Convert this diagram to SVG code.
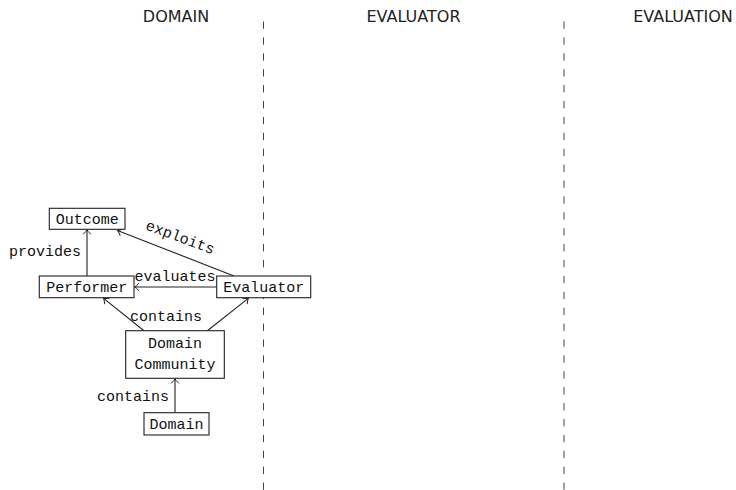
<svg xmlns="http://www.w3.org/2000/svg" width="736" height="490" viewBox="0 0 736 490">
  <style>
    .lane { font-family: "DejaVu Sans", "Noto Sans", sans-serif; font-size: 16px; fill: #222; text-anchor: middle; }
    .sep { stroke: #444; stroke-width: 1; stroke-dasharray: 7.3 8.6; fill: none; }
    .box { fill: #fff; stroke: #222; stroke-width: 1.1; }
    .tt { font-family: "Liberation Mono", "DejaVu Sans Mono", monospace; font-size: 15px; fill: #111; text-anchor: middle; }
    .lbl { font-family: "Liberation Mono", "DejaVu Sans Mono", monospace; font-size: 15px; fill: #111; }
    .edge { stroke: #222; stroke-width: 1.1; fill: none; marker-end: url(#to); }
  </style>
  <defs>
    <marker id="to" viewBox="-6 -5 8 10" markerWidth="8" markerHeight="10" refX="0" refY="0" orient="auto" markerUnits="userSpaceOnUse">
      <path d="M -4.2 -3.6 Q -1.4 -0.6 0 0 Q -1.4 0.6 -4.2 3.6" fill="none" stroke="#222" stroke-width="1" stroke-linecap="round"/>
    </marker>
  </defs>

  <rect width="736" height="490" fill="#fff"/>

  <!-- swimlane headings and separators -->
  <g id="lanes">
    <text class="lane" x="176" y="22">DOMAIN</text>
    <text class="lane" x="413.5" y="22">EVALUATOR</text>
    <text class="lane" x="683" y="22">EVALUATION</text>
    <line class="sep" x1="263.5" y1="21.5" x2="263.5" y2="490"/>
    <line class="sep" x1="564" y1="21.5" x2="564" y2="490"/>
  </g>

  <!-- connectors -->
  <g id="connectors">
    <line class="edge" x1="87" y1="276" x2="87" y2="229.8"/>
    <line class="edge" x1="234" y1="276" x2="117.5" y2="230.5"/>
    <line class="edge" x1="216.7" y1="287" x2="134.6" y2="287"/>
    <line class="edge" x1="144" y1="330.7" x2="103.6" y2="298.4"/>
    <line class="edge" x1="207.3" y1="330.7" x2="248.3" y2="298.4"/>
    <line class="edge" x1="175" y1="412.7" x2="175" y2="378.9"/>

    <text class="lbl" x="81" y="256" text-anchor="end">provides</text>
    <text class="lbl" transform="translate(180,238) rotate(20.4)" x="0" y="4" text-anchor="middle">exploits</text>
    <text class="lbl" x="175" y="281" text-anchor="middle">evaluates</text>
    <text class="lbl" x="166" y="321" text-anchor="middle">contains</text>
    <text class="lbl" x="169" y="401" text-anchor="end">contains</text>
  </g>

  <!-- nodes -->
  <g id="outcome">
    <rect class="box" x="49.3" y="208.3" width="75.7" height="21"/>
    <text class="tt" x="87.2" y="224.2">Outcome</text>
  </g>
  <g id="performer">
    <rect class="box" x="39.3" y="276" width="94.7" height="21.7"/>
    <text class="tt" x="86.7" y="292.4">Performer</text>
  </g>
  <g id="evaluator">
    <rect class="box" x="216.7" y="276" width="94" height="21.7"/>
    <text class="tt" x="263.7" y="292.4">Evaluator</text>
  </g>
  <g id="domain-community">
    <rect class="box" x="125.7" y="330.7" width="98.6" height="47.6"/>
    <text class="tt" x="175" y="347.6">Domain</text>
    <text class="tt" x="175" y="368.6">Community</text>
  </g>
  <g id="domain">
    <rect class="box" x="144" y="412.7" width="65" height="22.3"/>
    <text class="tt" x="176.5" y="429.2">Domain</text>
  </g>
</svg>
